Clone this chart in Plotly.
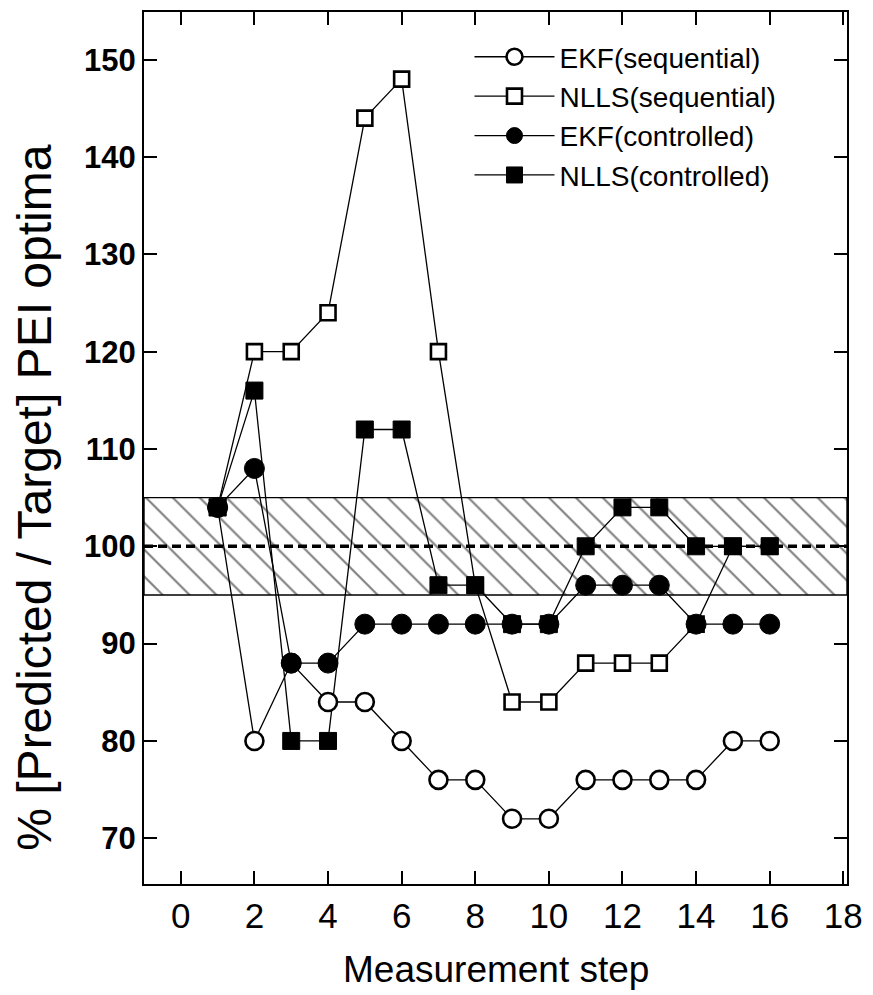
import plotly.graph_objects as go

# Measurement steps and % [Predicted / Target] PEI optima for each estimator
steps = list(range(1, 17))
ekf_seq = [104, 80, 88, 84, 84, 80, 76, 76, 72, 72, 76, 76, 76, 76, 80, 80]
nlls_seq = [104, 120, 120, 124, 144, 148, 120, 96, 84, 84, 88, 88, 88, 92, 100, 100]
ekf_ctrl = [104, 108, 88, 88, 92, 92, 92, 92, 92, 92, 96, 96, 96, 92, 92, 92]
nlls_ctrl = [104, 116, 80, 80, 112, 112, 96, 96, 92, 92, 100, 104, 104, 100, 100, 100]

names = ["EKF(sequential)", "NLLS(sequential)", "EKF(controlled)", "NLLS(controlled)"]

target = 100
band_low, band_high = 95, 105

x_ticks = list(range(0, 19, 2))
y_ticks = list(range(70, 151, 10))

X_RANGE = [-1.0, 18.1]
Y_RANGE = [65.3, 154.9]

FONT = "Liberation Sans, Arial, Helvetica, sans-serif"
BLACK = "black"

fig = go.Figure()

# Hatched tolerance band around the target
fig.add_trace(go.Scatter(
    x=[X_RANGE[0], X_RANGE[1], X_RANGE[1], X_RANGE[0], X_RANGE[0]],
    y=[band_low, band_low, band_high, band_high, band_low],
    mode="lines", fill="toself", fillcolor="white",
    fillpattern=dict(shape="\\", fgcolor=BLACK, bgcolor="white",
                     size=19, solidity=0.11),
    line=dict(color=BLACK, width=1.4),
    showlegend=False, hoverinfo="skip",
))

# Target line
fig.add_trace(go.Scatter(
    x=X_RANGE, y=[target, target], mode="lines",
    line=dict(color=BLACK, width=3.4, dash="9px,5px"),
    showlegend=False, hoverinfo="skip",
))

series = [ekf_seq, nlls_seq, ekf_ctrl, nlls_ctrl]

# Connecting lines (drawn under all markers)
for vals in series:
    fig.add_trace(go.Scatter(
        x=steps, y=vals, mode="lines",
        line=dict(color=BLACK, width=1.3),
        showlegend=False, hoverinfo="skip",
    ))

# Marker styles
styles = {
    "EKF(sequential)": dict(symbol="circle", size=18, color="white",
                            line=dict(color=BLACK, width=2.6)),
    "NLLS(sequential)": dict(symbol="square", size=15, color="white",
                             line=dict(color=BLACK, width=2.6)),
    "EKF(controlled)": dict(symbol="circle", size=20, color=BLACK,
                            line=dict(color=BLACK, width=1)),
    "NLLS(controlled)": dict(symbol="square", size=17, color=BLACK,
                             line=dict(color=BLACK, width=1)),
}

# NLLS(sequential) marker at step 14 appears filled
nlls_seq_fill = ["black" if s == 14 else "white" for s in steps]

marker_order = [(ekf_seq, names[0]), (ekf_ctrl, names[2]),
                (nlls_seq, names[1]), (nlls_ctrl, names[3])]
for vals, name in marker_order:
    st = dict(styles[name])
    if name == "NLLS(sequential)":
        st["color"] = nlls_seq_fill
    fig.add_trace(go.Scatter(
        x=steps, y=vals, mode="markers", marker=st,
        showlegend=False, name=name,
    ))

# Legend entries
for i, name in enumerate(names):
    fig.add_trace(go.Scatter(
        x=[None], y=[None], mode="lines+markers", name=name,
        legendgroup=f"g{i}",
        line=dict(color=BLACK, width=1.3),
        marker=styles[name],
    ))

axis_common = dict(
    showline=True, linecolor=BLACK, linewidth=2, mirror="ticks",
    ticks="inside", ticklen=13, tickwidth=2, tickcolor=BLACK,
    showgrid=False, zeroline=False,
)

fig.update_xaxes(
    range=X_RANGE, tickvals=x_ticks, ticktext=[str(v) for v in x_ticks],
    tickfont=dict(family=FONT, size=35, color=BLACK),
    **axis_common,
)
fig.update_yaxes(
    range=Y_RANGE, tickvals=y_ticks, ticktext=[str(v) for v in y_ticks],
    tickfont=dict(family=FONT, size=31, color=BLACK, weight="bold"),
    **axis_common,
)

fig.add_annotation(
    text="Measurement step", xref="paper", yref="paper",
    x=0.5, y=-0.098, xanchor="center", yanchor="middle", showarrow=False,
    font=dict(family=FONT, size=37, color=BLACK),
)
fig.add_annotation(
    text="% [Predicted / Target] PEI optima", xref="paper", yref="paper",
    x=-0.155, y=0.443, xanchor="center", yanchor="middle", textangle=-90,
    showarrow=False, font=dict(family=FONT, size=48, color=BLACK),
)

fig.update_layout(
    width=873, height=995,
    margin=dict(l=144, r=23, t=10, b=111),
    paper_bgcolor="white", plot_bgcolor="white",
    legend=dict(
        x=0.463, y=0.977, xanchor="left", yanchor="top",
        font=dict(family=FONT, size=28, color=BLACK),
        bgcolor="rgba(0,0,0,0)", itemwidth=80, tracegroupgap=5,
        traceorder="normal",
    ),
    showlegend=True,
)

fig.write_html("out.html")
